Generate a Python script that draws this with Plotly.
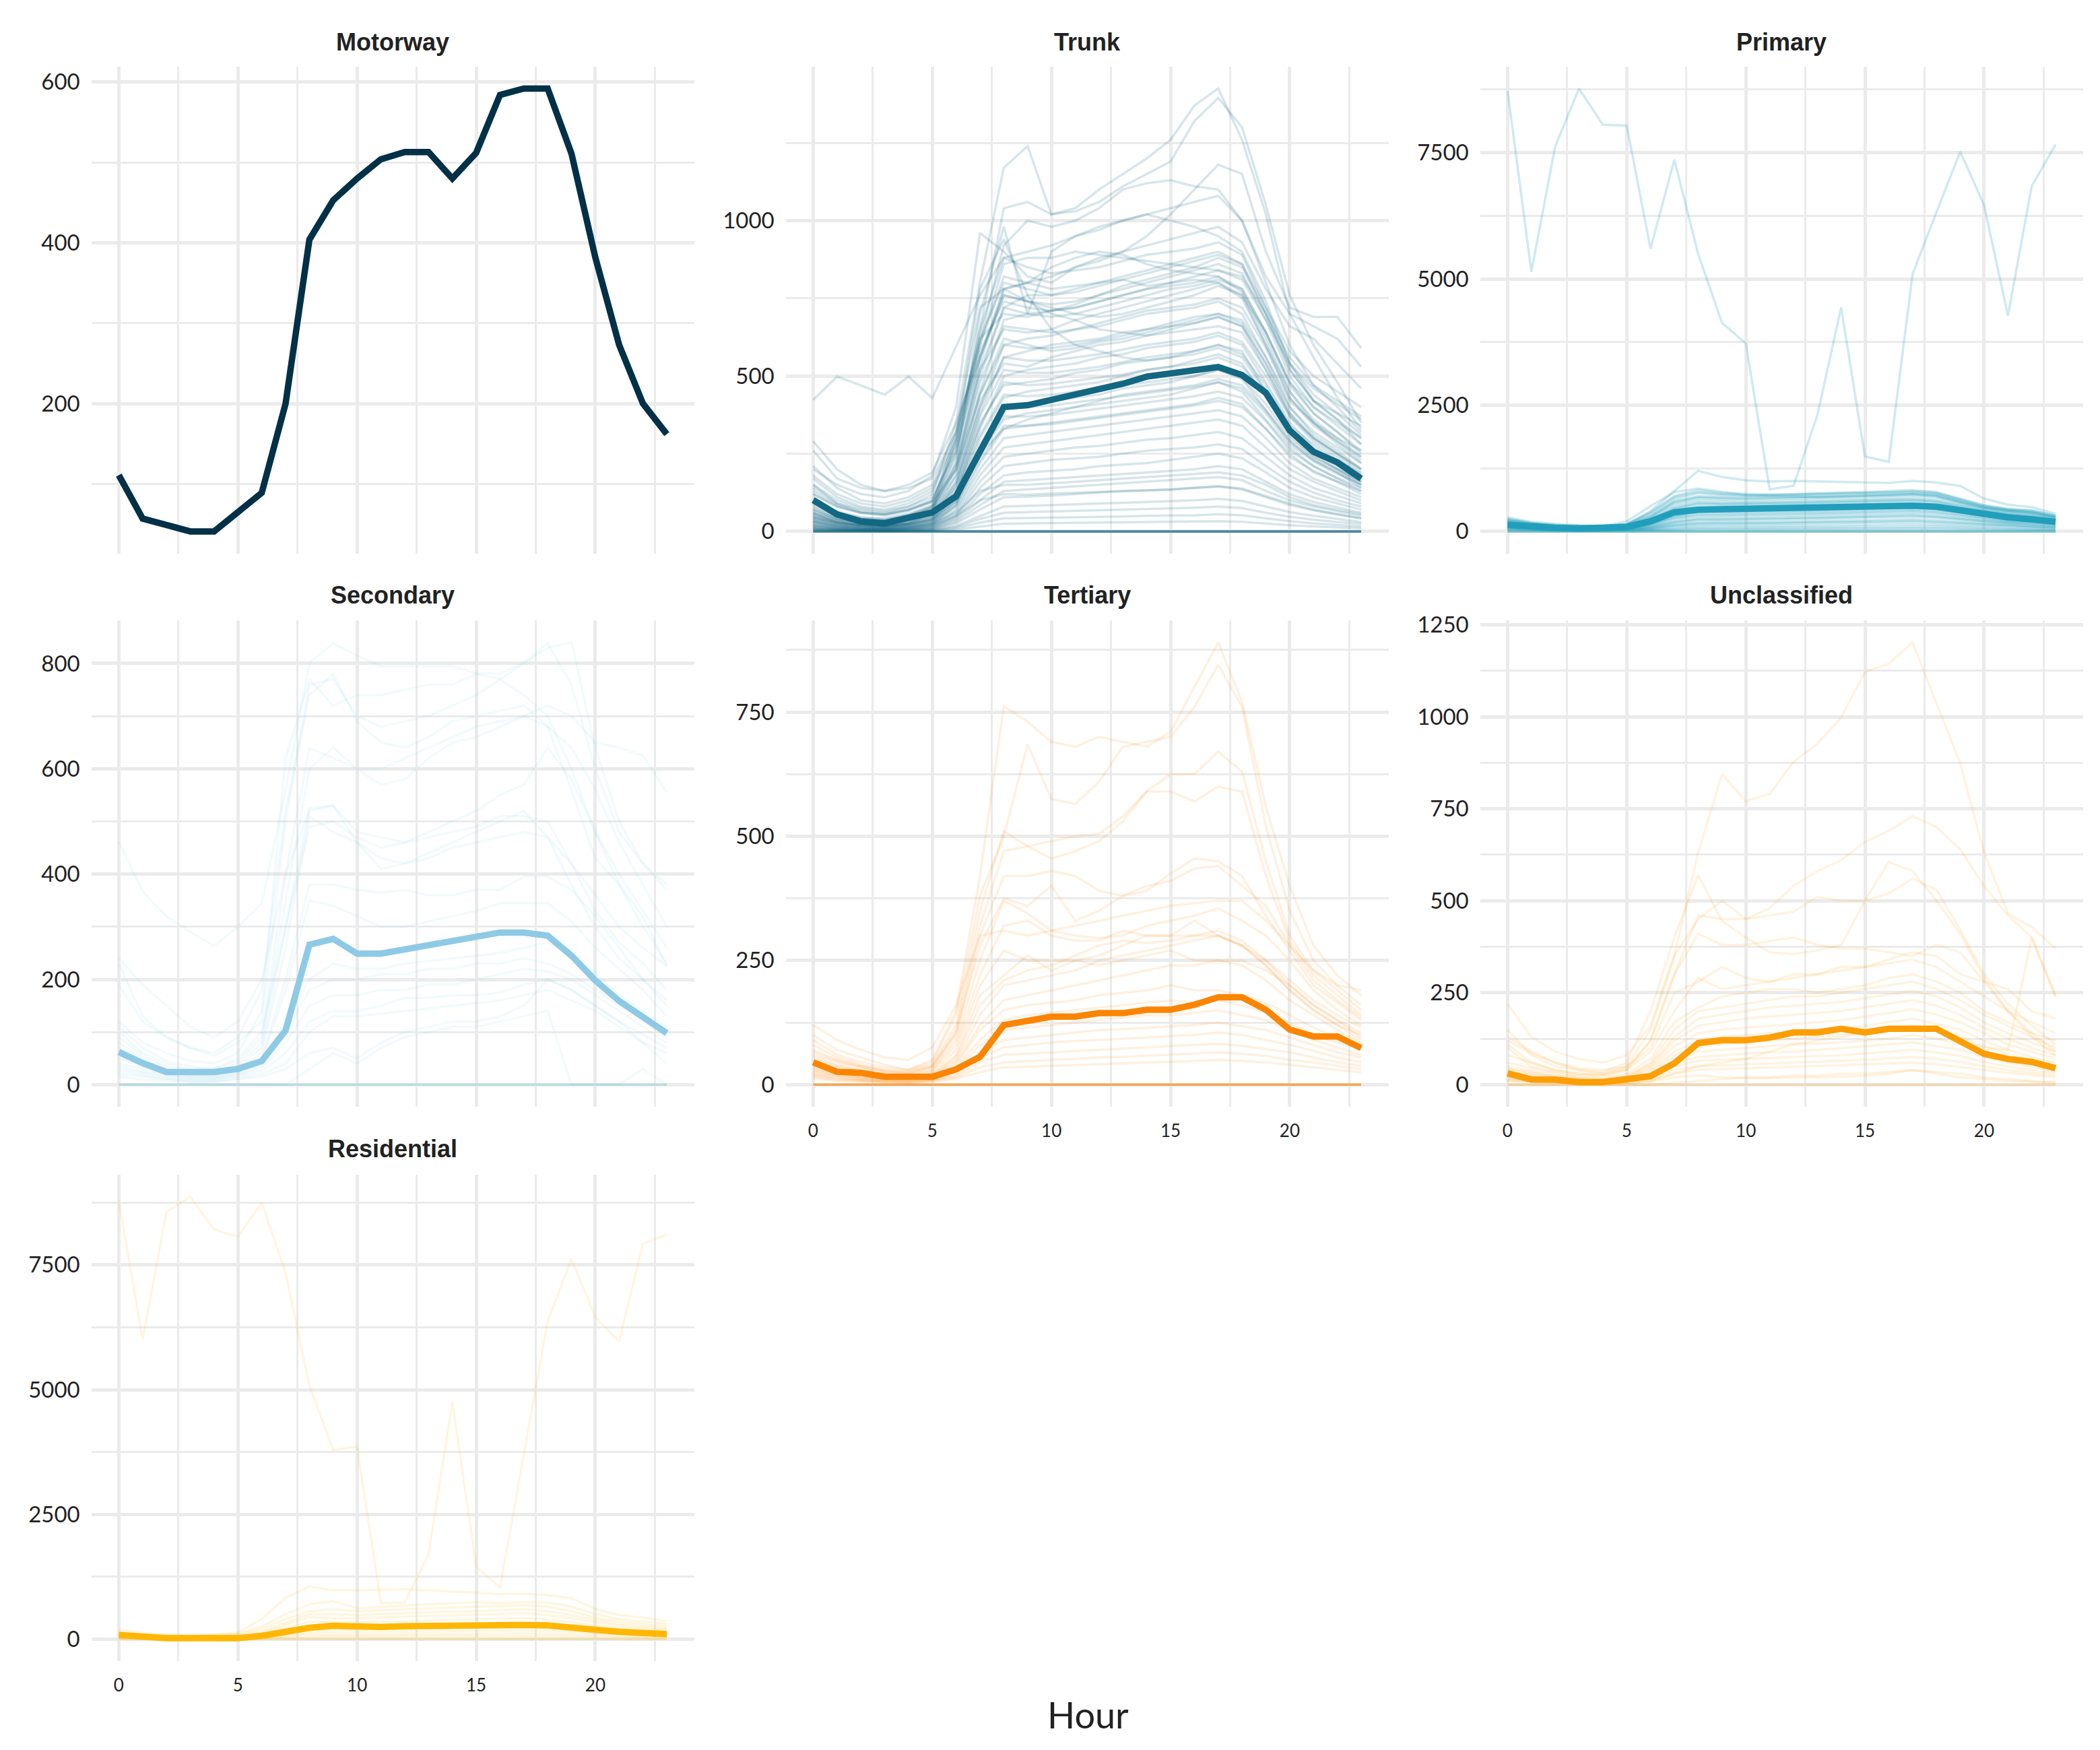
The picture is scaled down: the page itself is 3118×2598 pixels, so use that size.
import plotly.graph_objects as go
import numpy as np

hours = list(range(24))

panel_names = ["Motorway", "Trunk", "Primary", "Secondary", "Tertiary", "Unclassified", "Residential"]
panel_colors = ["#023047", "#126782", "#219ebc", "#8ecae6", "#fb8500", "#fd9e02", "#ffb703"]

# ---------------- mean lines ----------------
mean_motorway = [111, 57, 49, 41, 41, 66, 89, 200, 404, 453, 480, 504, 513, 513, 480, 512, 584, 592, 592, 511, 382, 273, 200, 162]
mean_trunk = [101, 55, 32, 26, 44, 61, 113, 256, 400, 406, 423, 440, 457, 475, 498, 509, 515, 529, 503, 446, 325, 256, 222, 170]
mean_primary = [130, 90, 70, 60, 65, 90, 200, 380, 430, 440, 450, 460, 470, 475, 480, 490, 500, 510, 490, 420, 330, 280, 240, 190]
mean_secondary = [62, 41, 24, 24, 24, 30, 45, 103, 266, 277, 249, 249, 257, 264, 273, 281, 289, 289, 283, 245, 198, 159, 127, 98]
mean_tertiary = [45, 26, 24, 16, 16, 16, 31, 56, 120, 130, 137, 137, 144, 144, 151, 151, 161, 176, 176, 151, 111, 97, 97, 74]
mean_unclassified = [31, 14, 14, 7, 7, 14, 23, 58, 113, 121, 121, 128, 142, 142, 152, 142, 152, 152, 152, 118, 84, 70, 62, 45]
mean_residential = [81, 40, 16, 16, 16, 16, 65, 145, 226, 266, 242, 242, 258, 266, 258, 258, 266, 282, 274, 242, 185, 145, 121, 97]

ZERO = [0] * 24

# ---------------- individual counters ----------------
trunk_lines = [
    [150, 90, 70, 60, 80, 120, 350, 800, 1170, 1240, 1020, 1040, 1100, 1150, 1200, 1260, 1370, 1425, 1260, 1020, 700, 560, 430, 330],
    [120, 80, 60, 55, 70, 100, 280, 650, 1040, 1060, 1020, 1030, 1060, 1110, 1150, 1190, 1320, 1395, 1300, 1050, 760, 600, 480, 350],
    [423, 498, 470, 440, 498, 429, 595, 760, 880, 900, 920, 950, 980, 1000, 1020, 1040, 1060, 1080, 1000, 820, 700, 660, 620, 530],
    [200, 150, 120, 110, 130, 180, 400, 960, 900, 820, 800, 850, 880, 900, 950, 1020, 1100, 1180, 1150, 900, 720, 690, 690, 590],
    [100, 60, 40, 35, 50, 80, 250, 620, 920, 1000, 980, 1000, 1040, 1100, 1120, 1130, 1110, 1100, 1000, 800, 600, 470, 400, 320],
    [90, 50, 35, 30, 45, 70, 220, 700, 980, 700, 900, 950, 970, 1000, 1020, 1000, 980, 950, 900, 740, 540, 420, 360, 280],
    [80, 45, 30, 25, 40, 65, 200, 540, 780, 800, 850, 880, 900, 890, 860, 840, 830, 820, 780, 640, 480, 380, 320, 250],
    [70, 40, 28, 22, 35, 55, 180, 500, 720, 760, 760, 780, 800, 810, 790, 800, 810, 800, 760, 600, 450, 360, 300, 240],
    [60, 35, 25, 20, 30, 50, 160, 450, 680, 700, 710, 720, 740, 760, 780, 790, 800, 820, 770, 620, 450, 350, 280, 220],
    [110, 60, 40, 35, 50, 75, 210, 520, 650, 640, 650, 680, 700, 720, 740, 760, 780, 800, 750, 600, 430, 340, 290, 230],
    [50, 30, 20, 18, 25, 40, 140, 400, 600, 620, 630, 650, 660, 680, 700, 710, 720, 740, 700, 560, 400, 310, 260, 200],
    [40, 25, 18, 15, 22, 35, 120, 380, 560, 580, 600, 610, 620, 640, 650, 670, 690, 700, 670, 540, 380, 300, 250, 190],
    [55, 30, 22, 18, 28, 45, 150, 420, 540, 530, 560, 580, 600, 610, 630, 640, 650, 660, 640, 520, 370, 290, 240, 180],
    [35, 20, 14, 12, 18, 30, 110, 330, 500, 520, 530, 540, 560, 570, 590, 600, 610, 630, 600, 480, 350, 270, 220, 170],
    [45, 25, 18, 15, 22, 38, 120, 350, 470, 480, 490, 510, 520, 540, 550, 560, 570, 590, 560, 450, 330, 260, 210, 160],
    [30, 18, 12, 10, 16, 26, 95, 300, 430, 450, 460, 470, 480, 500, 520, 530, 550, 570, 540, 430, 310, 240, 200, 150],
    [25, 15, 10, 8, 14, 22, 85, 270, 400, 410, 420, 430, 440, 460, 470, 480, 500, 520, 490, 390, 290, 230, 190, 140],
    [28, 16, 11, 9, 15, 24, 80, 250, 360, 380, 390, 400, 410, 420, 430, 440, 460, 480, 450, 360, 270, 210, 170, 130],
    [20, 12, 8, 7, 12, 20, 70, 220, 330, 340, 350, 360, 370, 380, 390, 400, 410, 430, 410, 330, 250, 190, 160, 120],
    [22, 13, 9, 7, 11, 18, 65, 200, 300, 310, 320, 330, 340, 350, 360, 370, 380, 390, 370, 300, 220, 170, 140, 110],
    [18, 10, 7, 6, 10, 16, 55, 180, 270, 280, 290, 300, 310, 320, 330, 340, 350, 360, 340, 270, 200, 160, 130, 100],
    [15, 9, 6, 5, 8, 14, 50, 160, 240, 250, 260, 270, 275, 285, 295, 300, 310, 320, 300, 240, 180, 140, 115, 90],
    [14, 8, 6, 5, 8, 12, 45, 140, 210, 220, 230, 235, 240, 250, 260, 265, 270, 280, 265, 210, 160, 125, 100, 80],
    [12, 7, 5, 4, 7, 11, 40, 120, 180, 190, 195, 200, 210, 215, 220, 230, 240, 250, 235, 190, 140, 110, 90, 70],
    [10, 6, 4, 3, 6, 9, 35, 100, 160, 165, 170, 175, 180, 185, 190, 195, 200, 210, 200, 160, 120, 95, 78, 60],
    [9, 5, 4, 3, 5, 8, 30, 85, 130, 135, 140, 145, 150, 155, 160, 165, 170, 175, 165, 130, 100, 80, 65, 50],
    [8, 5, 3, 3, 4, 7, 25, 70, 110, 112, 115, 120, 125, 130, 132, 135, 140, 145, 135, 110, 85, 68, 55, 42],
    [6, 4, 3, 2, 3, 5, 18, 50, 80, 82, 85, 88, 90, 92, 95, 98, 100, 105, 98, 80, 62, 50, 40, 30],
    [5, 3, 2, 2, 3, 4, 14, 40, 60, 62, 64, 66, 68, 70, 72, 74, 76, 80, 75, 60, 47, 38, 30, 24],
    [4, 2, 2, 1, 2, 3, 10, 28, 42, 43, 44, 46, 47, 48, 50, 51, 52, 55, 52, 42, 33, 26, 21, 16],
    [3, 2, 1, 1, 1, 2, 6, 16, 25, 26, 27, 28, 28, 29, 30, 31, 32, 33, 31, 25, 20, 16, 13, 10],
    [290, 200, 150, 130, 150, 190, 350, 560, 780, 800, 820, 850, 870, 900, 920, 940, 960, 980, 930, 780, 660, 620, 540, 460],
    [260, 170, 140, 130, 140, 170, 320, 600, 860, 880, 880, 900, 890, 880, 870, 860, 850, 840, 820, 700, 560, 470, 420, 370],
    [180, 120, 90, 80, 100, 140, 300, 620, 700, 690, 710, 730, 760, 790, 810, 830, 850, 880, 850, 700, 520, 420, 380, 340],
    [150, 100, 75, 65, 80, 110, 260, 560, 760, 740, 720, 700, 690, 700, 720, 740, 760, 790, 760, 640, 480, 400, 350, 300],
    [130, 85, 60, 55, 70, 95, 200, 440, 620, 600, 580, 590, 610, 620, 640, 660, 680, 700, 680, 560, 420, 350, 300, 260],
    [60, 30, 20, 15, 25, 60, 300, 780, 940, 760, 650, 600, 580, 560, 550, 560, 580, 600, 580, 450, 320, 250, 200, 160],
    [70, 40, 30, 25, 40, 80, 320, 720, 780, 740, 700, 680, 650, 640, 630, 650, 670, 690, 660, 520, 380, 300, 250, 200],
    [30, 18, 12, 10, 14, 24, 60, 130, 150, 150, 155, 160, 165, 170, 175, 180, 185, 190, 180, 150, 110, 85, 70, 55],
    [20, 12, 8, 6, 10, 18, 50, 100, 120, 118, 122, 125, 128, 130, 132, 135, 140, 145, 138, 115, 90, 70, 55, 42],
    [140, 90, 65, 55, 70, 100, 260, 600, 820, 800, 780, 790, 800, 820, 840, 860, 880, 900, 860, 700, 520, 420, 360, 300],
    [100, 65, 45, 40, 55, 80, 220, 520, 720, 700, 690, 700, 720, 740, 760, 780, 790, 810, 780, 640, 470, 380, 320, 260],
    [85, 55, 40, 35, 48, 70, 200, 480, 660, 650, 640, 650, 670, 690, 710, 720, 730, 750, 720, 590, 430, 350, 290, 240],
    [75, 48, 34, 30, 42, 62, 180, 440, 600, 590, 590, 600, 615, 630, 650, 660, 670, 690, 660, 540, 400, 320, 270, 220],
    [65, 42, 30, 26, 36, 55, 160, 400, 560, 550, 550, 560, 570, 585, 600, 610, 620, 640, 610, 500, 370, 300, 250, 200],
    [58, 38, 27, 23, 32, 50, 145, 370, 520, 510, 510, 520, 530, 545, 560, 570, 580, 600, 570, 470, 340, 280, 230, 185],
    [52, 34, 24, 20, 28, 45, 130, 340, 480, 470, 475, 485, 495, 505, 520, 530, 540, 560, 530, 440, 320, 260, 215, 170],
    [46, 30, 21, 18, 25, 40, 120, 310, 440, 435, 440, 450, 460, 470, 480, 490, 500, 520, 495, 410, 300, 240, 200, 160],
    [40, 26, 18, 15, 22, 35, 105, 280, 400, 400, 405, 415, 425, 435, 445, 455, 465, 480, 460, 380, 280, 225, 185, 150],
    [36, 23, 16, 13, 20, 31, 95, 255, 370, 370, 375, 385, 395, 405, 415, 425, 435, 450, 430, 355, 260, 210, 172, 140],
    [32, 20, 14, 12, 18, 28, 85, 230, 340, 340, 345, 355, 365, 375, 385, 395, 405, 420, 400, 330, 240, 195, 160, 130],
    [120, 80, 60, 50, 65, 95, 280, 650, 880, 850, 830, 840, 850, 870, 890, 900, 910, 930, 890, 720, 540, 440, 380, 310],
    [95, 60, 45, 40, 55, 85, 240, 560, 760, 740, 730, 740, 760, 780, 800, 820, 840, 860, 830, 680, 500, 400, 340, 280],
    [210, 140, 100, 90, 110, 150, 320, 620, 800, 780, 760, 770, 790, 810, 830, 850, 870, 890, 860, 720, 580, 500, 450, 400],
    [170, 110, 80, 70, 90, 130, 290, 580, 740, 720, 710, 720, 740, 760, 780, 800, 820, 840, 810, 680, 540, 460, 410, 360],
    [45, 28, 20, 16, 24, 38, 100, 250, 330, 360, 380, 400, 420, 440, 450, 460, 470, 490, 470, 390, 290, 230, 190, 150],
    ZERO, ZERO, ZERO, ZERO, ZERO, ZERO, ZERO,
]

primary_lines = [
    [8722, 5141, 7627, 8771, 8051, 8037, 5600, 7359, 5494, 4131, 3722, 833, 904, 2295, 4435, 1483, 1377, 5099, 6321, 7521, 6462, 4272, 6836, 7662],
    [280, 190, 150, 120, 110, 140, 400, 800, 1200, 1080, 1010, 990, 1000, 990, 980, 970, 960, 1000, 970, 900, 650, 530, 480, 350],
    [250, 170, 130, 110, 100, 150, 380, 700, 820, 760, 740, 730, 740, 760, 770, 780, 800, 820, 780, 650, 520, 450, 420, 320],
    [230, 160, 120, 100, 95, 130, 330, 640, 760, 720, 700, 710, 720, 730, 740, 750, 760, 780, 750, 620, 500, 430, 400, 300],
    [220, 150, 110, 95, 90, 120, 300, 600, 700, 680, 670, 680, 690, 700, 710, 720, 740, 760, 730, 600, 480, 420, 380, 290],
    [200, 140, 100, 90, 85, 110, 280, 560, 660, 640, 630, 640, 650, 660, 670, 690, 700, 720, 690, 570, 460, 400, 360, 270],
    [190, 130, 95, 85, 80, 105, 260, 520, 620, 600, 590, 600, 610, 620, 630, 650, 660, 680, 650, 540, 440, 380, 340, 260],
    [180, 120, 90, 80, 75, 100, 240, 480, 580, 560, 560, 570, 580, 590, 600, 610, 620, 640, 610, 510, 420, 360, 320, 240],
    [170, 110, 85, 75, 70, 95, 220, 440, 540, 530, 530, 540, 550, 560, 570, 580, 590, 610, 580, 480, 400, 340, 300, 230],
    [160, 105, 80, 70, 68, 90, 200, 410, 500, 500, 500, 510, 520, 530, 540, 550, 560, 580, 550, 460, 380, 320, 280, 220],
    [150, 100, 75, 65, 65, 85, 190, 380, 470, 470, 475, 480, 490, 500, 510, 520, 530, 550, 520, 440, 360, 300, 260, 210],
    [140, 95, 70, 60, 60, 80, 175, 350, 440, 440, 445, 450, 460, 470, 480, 490, 500, 520, 490, 410, 340, 280, 240, 200],
    [130, 90, 65, 58, 58, 75, 160, 320, 410, 410, 415, 420, 430, 440, 450, 460, 470, 490, 460, 390, 320, 260, 230, 190],
    [120, 85, 62, 55, 55, 70, 150, 300, 380, 380, 385, 390, 400, 410, 420, 430, 440, 460, 430, 360, 300, 240, 210, 180],
    [110, 80, 58, 50, 50, 65, 140, 280, 350, 350, 355, 360, 370, 380, 390, 400, 410, 430, 400, 340, 280, 220, 200, 170],
    [100, 70, 52, 45, 45, 60, 120, 240, 300, 300, 305, 310, 320, 330, 340, 350, 360, 380, 350, 300, 250, 200, 180, 150],
    [90, 60, 45, 40, 40, 55, 100, 200, 260, 260, 265, 270, 280, 290, 300, 310, 320, 340, 310, 260, 220, 180, 160, 130],
    [80, 55, 40, 35, 35, 48, 85, 170, 220, 220, 225, 230, 240, 250, 260, 270, 280, 290, 270, 230, 190, 160, 140, 110],
    [70, 48, 35, 30, 30, 40, 70, 140, 180, 180, 185, 190, 195, 200, 210, 220, 230, 240, 220, 190, 160, 130, 110, 90],
    [60, 40, 30, 25, 25, 35, 55, 110, 140, 140, 145, 150, 155, 160, 165, 170, 175, 185, 170, 150, 125, 105, 90, 75],
    [50, 35, 25, 20, 20, 30, 45, 85, 110, 110, 112, 115, 118, 120, 125, 130, 135, 140, 130, 115, 95, 80, 70, 60],
    [40, 28, 20, 15, 15, 22, 35, 60, 80, 80, 82, 85, 88, 90, 92, 95, 98, 100, 95, 85, 70, 60, 50, 45],
    [30, 20, 15, 12, 12, 16, 25, 40, 55, 55, 56, 58, 60, 62, 64, 66, 68, 70, 66, 58, 48, 40, 35, 30],
    [20, 14, 10, 8, 8, 11, 16, 25, 35, 35, 36, 37, 38, 39, 40, 42, 43, 45, 42, 37, 30, 26, 22, 20],
    [160, 110, 90, 80, 100, 200, 500, 780, 850, 780, 720, 700, 690, 680, 690, 700, 720, 740, 700, 580, 470, 410, 370, 280],
    [210, 145, 105, 92, 88, 115, 290, 580, 680, 660, 650, 660, 670, 680, 690, 705, 720, 740, 710, 585, 470, 410, 370, 280],
    [175, 115, 88, 78, 72, 98, 230, 460, 560, 545, 545, 555, 565, 575, 585, 595, 605, 625, 595, 495, 410, 350, 310, 235],
    [145, 98, 72, 62, 62, 82, 180, 365, 455, 455, 460, 465, 475, 485, 495, 505, 515, 535, 505, 425, 350, 290, 250, 205],
    [125, 88, 64, 56, 56, 72, 155, 310, 395, 395, 400, 405, 415, 425, 435, 445, 455, 475, 445, 375, 310, 250, 220, 185],
    [105, 75, 55, 48, 48, 62, 130, 260, 325, 325, 330, 335, 345, 355, 365, 375, 385, 405, 375, 320, 265, 210, 190, 160],
    [85, 58, 42, 38, 38, 52, 92, 185, 240, 240, 245, 250, 260, 270, 280, 290, 300, 315, 290, 245, 205, 170, 150, 120],
    [65, 44, 32, 28, 28, 38, 62, 125, 160, 160, 165, 170, 175, 180, 188, 195, 202, 212, 195, 170, 142, 118, 100, 82],
    [240, 165, 125, 105, 98, 140, 360, 680, 780, 740, 720, 720, 730, 745, 755, 765, 780, 800, 765, 635, 510, 440, 410, 310],
    ZERO, ZERO, ZERO,
]

secondary_lines = [
    [462, 367, 320, 290, 264, 300, 344, 560, 801, 838, 815, 795, 795, 795, 795, 781, 781, 801, 838, 760, 600, 480, 420, 380],
    [230, 130, 90, 70, 55, 80, 120, 500, 760, 770, 700, 680, 690, 700, 720, 740, 770, 800, 830, 840, 640, 500, 420, 370],
    [120, 80, 60, 45, 40, 60, 140, 620, 770, 720, 740, 740, 750, 760, 760, 780, 770, 740, 700, 600, 480, 400, 330, 260],
    [190, 120, 90, 70, 60, 90, 180, 520, 740, 780, 690, 650, 640, 660, 690, 700, 710, 720, 680, 560, 430, 380, 320, 225],
    [100, 60, 40, 30, 30, 45, 90, 400, 640, 620, 600, 600, 620, 640, 660, 680, 690, 700, 680, 640, 560, 460, 380, 300],
    [90, 55, 35, 25, 25, 40, 80, 350, 600, 640, 600, 570, 580, 620, 650, 660, 680, 700, 720, 700, 650, 640, 625, 555],
    [80, 50, 30, 20, 20, 35, 70, 300, 525, 530, 480, 470, 460, 480, 500, 520, 550, 570, 640, 580, 480, 380, 300, 230],
    [70, 45, 25, 18, 18, 30, 60, 260, 510, 480, 460, 430, 420, 430, 450, 460, 470, 480, 470, 380, 300, 240, 200, 160],
    [110, 70, 45, 35, 30, 50, 100, 300, 490, 500, 470, 450, 460, 470, 480, 490, 510, 510, 500, 420, 330, 270, 230, 180],
    [60, 40, 25, 18, 18, 28, 50, 200, 380, 380, 370, 365, 370, 360, 360, 370, 370, 395, 395, 370, 320, 260, 200, 150],
    [50, 35, 22, 15, 15, 25, 45, 180, 350, 340, 320, 300, 300, 310, 320, 330, 345, 345, 345, 310, 260, 220, 180, 130],
    [40, 30, 20, 14, 14, 22, 40, 120, 200, 230, 220, 220, 230, 235, 240, 245, 250, 260, 270, 250, 210, 170, 140, 110],
    [35, 25, 18, 12, 12, 20, 35, 100, 180, 200, 200, 210, 210, 220, 220, 230, 230, 240, 230, 210, 180, 150, 120, 90],
    [30, 22, 15, 10, 10, 18, 30, 80, 150, 170, 170, 180, 180, 190, 190, 200, 210, 220, 215, 200, 170, 140, 110, 80],
    [25, 18, 12, 8, 8, 15, 25, 60, 120, 140, 140, 150, 165, 165, 170, 170, 175, 190, 200, 180, 150, 120, 95, 70],
    [20, 15, 10, 6, 6, 12, 20, 40, 100, 130, 130, 135, 140, 145, 150, 155, 160, 170, 180, 160, 140, 110, 80, 60],
    [15, 10, 8, 5, 5, 10, 15, 30, 60, 70, 50, 80, 100, 110, 120, 120, 130, 150, 200, 180, 150, 120, 80, 40],
    [0, 0, 0, 0, 0, 0, 0, 0, 30, 60, 40, 70, 90, 100, 110, 110, 120, 130, 140, 0, 0, 0, 30, 0],
    [240, 190, 150, 110, 90, 120, 200, 400, 520, 530, 460, 410, 420, 440, 460, 480, 500, 520, 470, 420, 360, 300, 260, 225],
    ZERO, ZERO, ZERO, ZERO, ZERO, ZERO,
]

tertiary_lines = [
    [100, 70, 55, 40, 30, 50, 150, 420, 762, 730, 690, 680, 700, 690, 680, 710, 800, 890, 770, 560, 400, 280, 220, 180],
    [90, 60, 45, 35, 30, 45, 140, 380, 500, 685, 575, 565, 610, 680, 690, 700, 760, 845, 760, 520, 350, 250, 200, 160],
    [80, 55, 40, 30, 28, 40, 120, 350, 510, 480, 455, 470, 490, 530, 590, 625, 625, 670, 630, 450, 300, 230, 190, 150],
    [70, 50, 38, 28, 25, 38, 110, 320, 470, 480, 490, 500, 505, 540, 590, 590, 570, 600, 590, 420, 290, 220, 180, 140],
    [60, 45, 35, 25, 22, 35, 100, 300, 420, 420, 430, 420, 390, 380, 400, 410, 435, 440, 400, 360, 280, 210, 170, 135],
    [65, 48, 36, 27, 24, 36, 105, 280, 375, 360, 400, 330, 350, 380, 390, 425, 455, 450, 420, 340, 270, 200, 165, 130],
    [55, 40, 30, 22, 20, 30, 90, 250, 370, 345, 310, 300, 295, 300, 320, 330, 340, 355, 330, 300, 250, 190, 150, 120],
    [50, 38, 28, 20, 18, 28, 80, 220, 320, 330, 300, 290, 290, 310, 300, 300, 330, 300, 280, 250, 210, 170, 140, 115],
    [45, 35, 25, 18, 16, 25, 70, 200, 270, 250, 250, 250, 240, 250, 260, 270, 250, 250, 250, 230, 200, 160, 130, 105],
    [40, 30, 22, 16, 14, 22, 60, 180, 220, 260, 230, 250, 260, 280, 300, 300, 300, 300, 280, 240, 190, 150, 120, 100],
    [38, 28, 20, 15, 13, 20, 55, 160, 210, 230, 240, 260, 280, 290, 285, 290, 300, 310, 290, 250, 200, 160, 130, 95],
    [35, 26, 18, 13, 12, 18, 50, 140, 200, 210, 220, 230, 250, 260, 270, 280, 290, 300, 280, 240, 190, 150, 120, 90],
    [32, 24, 16, 12, 11, 16, 45, 120, 170, 180, 190, 200, 210, 220, 230, 240, 240, 250, 240, 210, 170, 140, 110, 85],
    [30, 22, 15, 11, 10, 15, 40, 110, 150, 160, 165, 170, 180, 185, 190, 200, 190, 190, 180, 165, 140, 115, 95, 75],
    [28, 20, 14, 10, 9, 14, 35, 90, 130, 140, 145, 150, 155, 160, 165, 170, 165, 170, 160, 145, 125, 100, 85, 70],
    [25, 18, 12, 9, 8, 12, 30, 80, 110, 115, 120, 125, 130, 135, 140, 140, 145, 150, 140, 130, 110, 90, 75, 60],
    [22, 16, 11, 8, 7, 11, 26, 65, 90, 95, 100, 105, 110, 112, 115, 118, 120, 125, 118, 110, 95, 80, 65, 55],
    [20, 14, 10, 7, 6, 10, 22, 55, 75, 80, 85, 88, 90, 92, 95, 98, 100, 105, 100, 90, 80, 68, 55, 45],
    [18, 12, 9, 6, 5, 9, 18, 45, 60, 62, 65, 68, 70, 72, 75, 78, 80, 82, 78, 72, 65, 55, 45, 38],
    [15, 10, 8, 5, 4, 8, 15, 35, 45, 48, 50, 52, 55, 56, 58, 60, 62, 65, 62, 58, 50, 45, 38, 32],
    [12, 8, 6, 4, 3, 6, 12, 25, 35, 36, 38, 40, 42, 43, 45, 46, 48, 50, 48, 45, 40, 35, 30, 25],
    [120, 90, 70, 55, 50, 75, 160, 300, 310, 300, 310, 320, 330, 340, 350, 360, 365, 370, 370, 330, 280, 230, 200, 190],
    ZERO, ZERO, ZERO, ZERO, ZERO, ZERO, ZERO, ZERO,
]

unclassified_lines = [
    [110, 60, 40, 30, 30, 50, 150, 350, 631, 844, 771, 790, 877, 926, 998, 1122, 1144, 1202, 1037, 873, 631, 466, 428, 370],
    [100, 50, 35, 25, 25, 40, 120, 300, 460, 450, 450, 480, 540, 580, 610, 660, 690, 730, 700, 640, 540, 460, 400, 240],
    [150, 80, 50, 40, 35, 60, 200, 400, 570, 445, 400, 360, 355, 365, 380, 500, 605, 580, 500, 410, 290, 200, 140, 90],
    [220, 130, 90, 70, 60, 80, 160, 350, 450, 500, 450, 460, 470, 510, 500, 500, 520, 560, 530, 420, 300, 220, 160, 110],
    [130, 90, 60, 40, 30, 45, 120, 300, 410, 380, 380, 390, 400, 380, 370, 370, 360, 350, 380, 360, 280, 200, 130, 80],
    [120, 85, 60, 45, 40, 50, 100, 250, 280, 320, 290, 280, 300, 300, 320, 320, 340, 360, 350, 300, 280, 260, 200, 180],
    [80, 60, 40, 30, 25, 40, 90, 200, 290, 260, 270, 280, 290, 300, 310, 320, 330, 340, 320, 280, 240, 200, 170, 140],
    [60, 45, 30, 22, 18, 30, 70, 170, 210, 240, 250, 260, 260, 250, 260, 270, 290, 300, 280, 250, 200, 170, 140, 120],
    [50, 38, 25, 18, 15, 25, 60, 150, 200, 210, 220, 230, 240, 240, 250, 260, 270, 280, 260, 230, 190, 160, 130, 100],
    [45, 34, 22, 16, 13, 22, 55, 130, 180, 190, 200, 210, 215, 220, 225, 235, 245, 255, 240, 210, 170, 140, 115, 90],
    [40, 30, 20, 14, 12, 20, 50, 120, 160, 170, 180, 185, 190, 195, 200, 210, 220, 230, 215, 190, 155, 125, 100, 80],
    [35, 26, 18, 12, 10, 18, 45, 105, 140, 150, 155, 160, 165, 170, 175, 185, 195, 205, 190, 170, 140, 110, 90, 70],
    [30, 22, 15, 10, 8, 15, 40, 90, 120, 130, 135, 140, 145, 150, 155, 160, 170, 180, 165, 150, 120, 95, 75, 60],
    [28, 20, 13, 9, 7, 13, 35, 80, 105, 110, 115, 120, 125, 130, 135, 140, 150, 160, 145, 130, 105, 85, 65, 50],
    [25, 18, 12, 8, 6, 12, 30, 70, 90, 95, 100, 105, 110, 112, 115, 120, 125, 135, 125, 110, 90, 70, 55, 45],
    [22, 16, 10, 7, 5, 10, 25, 60, 75, 80, 85, 88, 90, 95, 100, 105, 110, 115, 105, 95, 75, 60, 48, 38],
    [20, 14, 9, 6, 5, 9, 20, 50, 65, 68, 70, 72, 75, 78, 80, 85, 90, 95, 88, 78, 62, 50, 40, 32],
    [18, 12, 8, 5, 4, 8, 16, 40, 50, 52, 55, 58, 60, 62, 65, 68, 72, 75, 70, 62, 50, 40, 32, 26],
    [15, 10, 7, 4, 3, 6, 12, 30, 40, 42, 44, 46, 48, 50, 52, 55, 58, 60, 55, 48, 40, 32, 26, 20],
    [10, 7, 5, 3, 2, 4, 8, 20, 25, 20, 18, 18, 20, 20, 22, 24, 30, 40, 30, 20, 15, 10, 8, 6],
    [12, 8, 6, 4, 3, 5, 10, 30, 50, 60, 70, 90, 110, 120, 130, 140, 150, 160, 150, 120, 100, 95, 400, 240],
    [0, 0, 0, 0, 0, 0, 0, 5, 10, 15, 20, 20, 25, 25, 30, 30, 35, 40, 35, 30, 20, 15, 10, 5],
    ZERO, ZERO,
]

residential_lines = [
    [8790, 6008, 8565, 8871, 8210, 8065, 8750, 7339, 5081, 3790, 3855, 726, 726, 1694, 4758, 1452, 1032, 3710, 6371, 7621, 6452, 5968, 7928, 8105],
    [200, 120, 90, 80, 100, 130, 400, 830, 1050, 980, 980, 990, 1000, 980, 960, 930, 900, 910, 880, 820, 600, 480, 430, 360],
    [150, 90, 70, 60, 80, 110, 250, 500, 700, 760, 620, 650, 680, 700, 720, 740, 720, 740, 730, 650, 500, 400, 350, 300],
    [130, 80, 60, 50, 60, 90, 200, 400, 560, 600, 560, 580, 600, 620, 640, 650, 660, 680, 650, 560, 430, 350, 300, 250],
    [110, 70, 50, 40, 50, 70, 150, 320, 500, 500, 480, 500, 520, 540, 550, 560, 580, 600, 560, 480, 380, 300, 250, 210],
    [90, 60, 40, 35, 40, 60, 120, 280, 440, 420, 420, 440, 450, 460, 470, 480, 500, 520, 480, 420, 330, 260, 220, 180],
    [70, 45, 30, 25, 30, 45, 90, 220, 350, 340, 340, 350, 360, 370, 380, 390, 400, 420, 390, 340, 270, 210, 180, 150],
    [50, 35, 22, 18, 22, 35, 70, 160, 260, 250, 250, 260, 270, 280, 290, 300, 310, 330, 300, 260, 210, 170, 140, 110],
    [40, 28, 18, 14, 18, 28, 55, 120, 200, 190, 190, 200, 210, 215, 220, 230, 240, 250, 230, 200, 160, 130, 110, 90],
    [30, 20, 14, 10, 14, 20, 40, 90, 140, 135, 135, 140, 145, 150, 155, 160, 165, 175, 160, 140, 115, 95, 80, 65],
    [20, 14, 10, 7, 10, 14, 28, 60, 90, 88, 88, 90, 95, 98, 100, 105, 110, 115, 105, 92, 75, 62, 52, 42],
    [10, 7, 5, 4, 5, 7, 14, 30, 45, 44, 44, 45, 48, 50, 52, 54, 56, 60, 55, 48, 40, 32, 26, 22],
    ZERO, ZERO,
]

panel_lines = [[], trunk_lines, primary_lines, secondary_lines, tertiary_lines, unclassified_lines, residential_lines]
panel_means = [mean_motorway, mean_trunk, mean_primary, mean_secondary, mean_tertiary, mean_unclassified, mean_residential]
panel_alpha = [0.0, 0.17, 0.22, 0.10, 0.12, 0.12, 0.12]
panel_dtick = [200, 500, 2500, 200, 250, 250, 2500]

x_ticks = [0, 5, 10, 15, 20]

# ---------------- layout geometry (target page pixels) ----------------
OFFX, OFFY = 8, 23
YSCALE = 0.99338
W, H = 3118 - 2 * OFFX, 2580
cols_px = [(135.7, 1030.7), (1166.7, 2061.7), (2197.7, 3092.7)]
rows_px = [(98.3, 821.0), (920.0, 1641.7), (1742.0, 2464.0)]
title_y_px = [62, 883, 1704]
positions = [(0, 0), (0, 1), (0, 2), (1, 0), (1, 1), (1, 2), (2, 0)]
show_x_labels = [False, False, False, False, True, True, True]

GRID = "#ebebeb"
TXT = "#222222"
FONT = "Lato, 'Liberation Sans', sans-serif"


def px_x(p):
    return (p - OFFX) / W


def px_y(p):
    return 1 - (p / YSCALE - OFFY) / H


def hex_rgba(h, a):
    h = h.lstrip("#")
    r, g, b = int(h[0:2], 16), int(h[2:4], 16), int(h[4:6], 16)
    return f"rgba({r},{g},{b},{a})"


fig = go.Figure()
layout_axes = {}
annotations = []

for i, name in enumerate(panel_names):
    r, c = positions[i]
    n = i + 1
    xa = "x" if n == 1 else f"x{n}"
    ya = "y" if n == 1 else f"y{n}"
    col = panel_colors[i]
    for line in panel_lines[i]:
        fig.add_trace(go.Scatter(x=hours, y=line, mode="lines", xaxis=xa, yaxis=ya,
                                 line=dict(color=hex_rgba(col, panel_alpha[i]), width=3.5),
                                 hoverinfo="skip", showlegend=False))
    fig.add_trace(go.Scatter(x=hours, y=panel_means[i], mode="lines", xaxis=xa, yaxis=ya,
                             line=dict(color=col, width=9.5), showlegend=False))

    allv = np.array(panel_lines[i] + [panel_means[i]], dtype=float)
    lo, hi = allv.min(), allv.max()
    pad = 0.05 * (hi - lo)
    x0, x1 = cols_px[c]
    y0, y1 = rows_px[r]
    xkey = "xaxis" if n == 1 else f"xaxis{n}"
    ykey = "yaxis" if n == 1 else f"yaxis{n}"
    layout_axes[xkey] = dict(
        domain=[px_x(x0), px_x(x1)], anchor=ya, range=[-1.15, 24.15],
        tickvals=x_ticks, showticklabels=show_x_labels[i],
        showgrid=True, gridcolor=GRID, gridwidth=4.5,
        minor=dict(tickvals=[2.5, 7.5, 12.5, 17.5, 22.5], showgrid=True, gridcolor=GRID, gridwidth=2.5),
        zeroline=False, showline=False, ticks="",
        tickfont=dict(family=FONT, size=26, color=TXT), ticklabelstandoff=18,
    )
    layout_axes[ykey] = dict(
        domain=[px_y(y1), px_y(y0)], anchor=xa, range=[lo - pad, hi + pad],
        dtick=panel_dtick[i], tick0=0, tickformat="d",
        showgrid=True, gridcolor=GRID, gridwidth=4.5,
        minor=dict(dtick=panel_dtick[i] / 2, tick0=0, showgrid=True, gridcolor=GRID, gridwidth=2.5),
        zeroline=False, showline=False, ticks="",
        tickfont=dict(family=FONT, size=33, color=TXT), ticklabelstandoff=16,
    )
    annotations.append(dict(text=f"<b>{name}</b>", x=px_x((x0 + x1) / 2), y=px_y(title_y_px[r]),
                            xref="paper", yref="paper", showarrow=False, xanchor="center", yanchor="middle",
                            font=dict(family="'Liberation Sans', Arial, sans-serif", size=36, color=TXT)))

annotations.append(dict(text="Hour", x=px_x(1615), y=px_y(2543), xref="paper", yref="paper",
                        showarrow=False, xanchor="center", yanchor="middle",
                        font=dict(family=FONT, size=54, color=TXT)))

fig.update_layout(
    width=W, height=H, autosize=False,
    margin=dict(l=0, r=0, t=0, b=0, pad=0),
    paper_bgcolor="white", plot_bgcolor="white",
    showlegend=False, annotations=annotations,
    **layout_axes,
)

fig.write_html("out.html")
